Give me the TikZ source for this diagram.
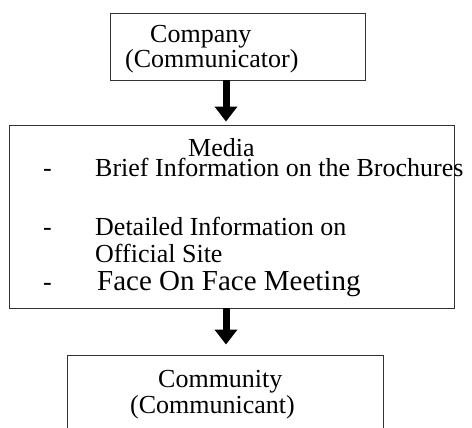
\documentclass[tikz,border=0pt]{standalone}
\usepackage{fontspec}
\setmainfont{Liberation Serif}
\usetikzlibrary{arrows.meta}
\begin{document}
\begin{tikzpicture}[x=1pt,y=-1pt]
\tikzstyle{box node}=[rectangle,draw=black!80,line width=0.9pt,inner sep=0]
\tikzstyle{txt node}=[anchor=base west,inner sep=0,font=\fontsize{26}{30}\selectfont]
\tikzset{
	flow arrow/.style={line width=7pt,-{Triangle[width=22pt,length=15pt]}},
	big txt/.style={font=\fontsize{29}{34}\selectfont}
}
\useasboundingbox (0,0) rectangle (472,428);
\clip (0,0) rectangle (472,428);
% boxes
\node[box node,minimum width=255pt,minimum height=67pt] (company) at (237.5,46.5) {};
\node[box node,minimum width=445pt,minimum height=183pt] (media) at (231.5,216.5) {};
\node[box node,minimum width=316pt,minimum height=120pt] (community) at (225,415) {};
% texts
\node[txt node] (company1) at (150,43) {Company};
\node[txt node] (company2) at (125,68) {(Communicator)};
\node[txt node] (media0) at (188,157) {Media};
\node[txt node] (dash1) at (43,176) {-};
\node[txt node] (media1) at (95,176) {Brief Information on the Brochures};
\node[txt node] (dash2) at (43,235) {-};
\node[txt node] (media2) at (95,235) {Detailed Information on};
\node[txt node] (media3) at (95,262) {Official Site};
\node[txt node] (dash3) at (43,290) {-};
\node[txt node,big txt] (media4) at (97,290) {Face On Face Meeting};
\node[txt node] (community1) at (158,387) {Community};
\node[txt node] (community2) at (130,413) {(Communicant)};
% arrows
\draw[flow arrow,shorten >=3pt] ([xshift=-11.5pt]company.south) -- ([xshift=-11.5pt]company.south |- media.north);
\draw[flow arrow,shorten >=10pt] ([xshift=-5.5pt]media.south) -- ([xshift=-5.5pt]media.south |- community.north);
\end{tikzpicture}
\end{document}
